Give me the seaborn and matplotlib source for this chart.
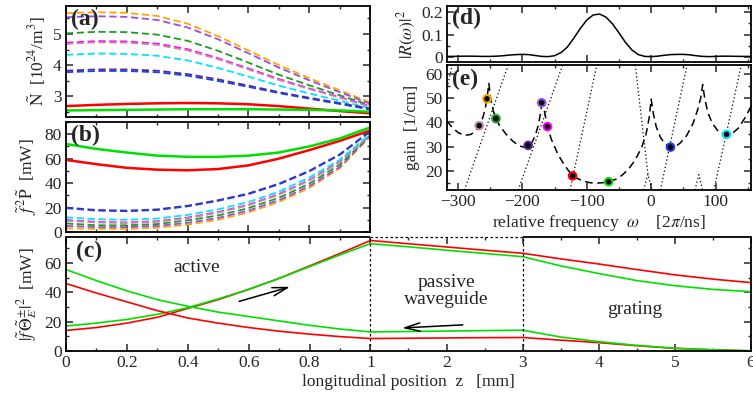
import numpy as np
import pandas as pd
import seaborn as sns
import matplotlib
matplotlib.use("Agg")
import matplotlib.pyplot as plt

# ---------------- data ----------------
z_ab = [0.0, 0.1, 0.2, 0.3, 0.4, 0.5, 0.6, 0.7, 0.8, 0.9, 1.0]

N_orange  = [5.67, 5.70, 5.68, 5.58, 5.33, 4.93, 4.47, 4.00, 3.58, 3.19, 2.80]
N_mpurple = [5.54, 5.57, 5.55, 5.45, 5.21, 4.83, 4.38, 3.92, 3.51, 3.13, 2.76]
N_green   = [5.02, 5.07, 5.06, 4.98, 4.78, 4.46, 4.08, 3.69, 3.35, 3.03, 2.71]
N_magenta = [4.72, 4.77, 4.76, 4.69, 4.51, 4.22, 3.89, 3.55, 3.25, 2.97, 2.68]
N_rosy    = [4.68, 4.73, 4.72, 4.65, 4.47, 4.19, 3.86, 3.52, 3.23, 2.95, 2.66]
N_cyan    = [4.33, 4.37, 4.36, 4.30, 4.15, 3.91, 3.63, 3.34, 3.09, 2.85, 2.61]
N_dpurple = [3.82, 3.86, 3.86, 3.82, 3.71, 3.54, 3.34, 3.13, 2.95, 2.78, 2.60]
N_blue    = [3.77, 3.81, 3.81, 3.77, 3.66, 3.49, 3.30, 3.10, 2.92, 2.75, 2.57]
N_red     = [2.68, 2.72, 2.75, 2.77, 2.78, 2.77, 2.74, 2.68, 2.60, 2.52, 2.45]
N_lime    = [2.54, 2.55, 2.56, 2.57, 2.58, 2.58, 2.58, 2.57, 2.56, 2.54, 2.50]

P_red     = [59, 55.5, 52.5, 51, 50.5, 51.5, 54.5, 60, 67, 74.5, 83]
P_lime    = [72, 68, 65, 62.5, 61.5, 61.5, 62.5, 65, 70, 76.5, 85.5]
P_blue    = [19.5, 17.5, 17, 18, 21, 25.5, 31, 39, 49.5, 63, 82]
P_dpurple = [20, 18, 17.5, 18.5, 21.5, 26, 31.5, 39.5, 50, 63.5, 82.5]
P_cyan    = [12, 10.5, 10, 11, 14, 18.5, 24.5, 33, 44.5, 59, 80]
P_magenta = [9.8, 8.3, 7.8, 8.8, 11.8, 16.3, 22.3, 31, 42.5, 57.5, 79.5]
P_rosy    = [9.2, 7.8, 7.3, 8.3, 11.3, 15.8, 21.8, 30.5, 42, 57, 79.3]
P_green   = [7, 5.5, 5.5, 6.5, 9.5, 13.5, 19.5, 28, 39.5, 55, 79]
P_mpurple = [5, 4, 4, 5, 7.5, 11.5, 17.5, 26, 37.5, 53, 78.5]
P_orange  = [3, 2.5, 2.5, 3.5, 6, 10, 16, 24.5, 36, 52, 78]

z_c = [0.0, 0.1, 0.2, 0.3, 0.4, 0.5, 0.6, 0.7, 0.8, 0.9, 1.0,
       1.5, 2.0, 2.5, 3.0, 3.5, 4.0, 4.5, 5.0, 5.5, 6.0]
fwd_red  = [14, 16, 19, 23, 29, 35, 42, 49.5, 58, 66.5, 75.3,
            73.1, 70.9, 68.7, 66.6, 62.8, 59.3, 55.5, 51.9, 49.0, 46.6]
fwd_lime = [17, 19, 21.5, 25, 29.5, 35.5, 42, 49.5, 57.5, 65.5, 73.2,
            71.0, 68.7, 66.5, 64.3, 58.0, 52.8, 48.0, 44.5, 42.0, 40.4]
bwd_red  = [46, 39.5, 33.5, 27.5, 22.5, 19, 16, 13.5, 11.5, 9.8, 8.5,
            8.7, 8.9, 9.1, 9.2, 7.4, 5.7, 3.6, 1.8, 0.8, 0.1]
bwd_lime = [55.5, 48, 41, 35, 30.5, 26.5, 23.5, 20.5, 17.5, 15, 13,
            13.3, 13.6, 13.9, 14.2, 9.5, 6.4, 3.8, 1.9, 0.8, 0.1]

omega_d = [-320, -310, -300, -290, -280, -270, -260, -250, -240, -230, -220, -210,
           -200, -190, -180, -170, -160, -150, -140, -130, -120, -110, -100, -90,
           -80, -70, -60, -50, -40, -30, -20, -10, 0, 10, 20, 30, 40, 50, 60, 70,
           80, 90, 100, 110, 120, 130, 140, 150, 160]
refl_d = [0.003, 0.003, 0.0035, 0.004, 0.004, 0.0035, 0.003, 0.003, 0.004, 0.006,
          0.009, 0.011, 0.012, 0.011, 0.007, 0.003, 0.002, 0.006, 0.020, 0.045,
          0.085, 0.128, 0.165, 0.188, 0.192, 0.178, 0.148, 0.108, 0.066, 0.032,
          0.011, 0.003, 0.002, 0.004, 0.008, 0.011, 0.012, 0.012, 0.010, 0.006,
          0.003, 0.002, 0.003, 0.004, 0.004, 0.0035, 0.003, 0.003, 0.003]

omega_thr = [-317, -310, -300, -290, -280, -272, -267, -262, -258, -255, -252, -249,
             -245, -241, -235, -225, -215, -205, -195, -190, -185, -180, -175, -171,
             -169, -166, -161, -155, -145, -135, -125, -115, -105, -95, -85, -75,
             -66, -55, -45, -35, -25, -15, -8, -3, 0, 3, 8, 15, 22, 30, 38, 45, 55,
             65, 72, 77, 80, 83, 88, 95, 105, 115, 125, 135, 145, 155]
gain_thr = [40.5, 38.2, 35.8, 34.6, 35.0, 36.5, 38.6, 41.5, 45, 49.6, 56, 49,
            44.5, 41.5, 38.5, 35, 32.3, 30.3, 29.6, 30.2, 31.8, 34.5, 39, 45,
            50, 45, 38.2, 33, 27, 22.5, 19, 17, 15.8, 15.2, 15, 15.2,
            15.6, 16.6, 18.3, 20.8, 24.5, 29.5, 35, 42, 49.5, 44, 38, 33.5, 31, 29.8, 30, 31.5, 34.5,
            39.5, 45, 50, 55.5, 50, 44, 39.5, 36, 34.8, 35.2, 37.5, 41.5, 46.5]

# phase-condition (dotted) curves, each as its omega / gain values
phase_omega = [[-352, -309], [-290, -222], [-206.5, -137.4], [-126, -84.4],
               [-24.7, -5, 1.3], [-11.7, -5], [14.3, 55.8], [68, 74, 80], [97.4, 140]]
phase_gain = [[12.2, 63.5], [12.2, 63.5], [12.2, 63.5], [12.2, 63.5],
              [63.5, 18.6, 12.2], [12.2, 18.6], [12.2, 63.5], [12.2, 18.5, 12.2], [12.2, 63.5]]

mode_names = ["orange", "green", "rosy", "dpurple", "mpurple", "magenta", "red", "lime", "blue", "cyan"]
mode_omega = [-255, -241, -267, -191, -170, -161, -122, -66, 30, 117]
mode_gain = [49.6, 41.5, 38.6, 30.5, 48.0, 38.2, 18.0, 15.6, 29.8, 35.0]

colors = {"orange": "#FFA500", "mpurple": "#9A4FE0", "green": "#1E9E1E", "magenta": "#FF00FF",
          "rosy": "#C88AA8", "cyan": "#00E5FF", "dpurple": "#5A2A90", "blue": "#1F3FE8",
          "red": "#FF0000", "lime": "#00E000"}

# ---------------- style ----------------
sns.set_theme(style="ticks")
plt.rcParams["font.family"] = ["Liberation Serif", "DejaVu Serif"]
plt.rcParams["mathtext.fontset"] = "stix"
plt.rcParams["axes.linewidth"] = 1.3
plt.rcParams["xtick.direction"] = "in"
plt.rcParams["ytick.direction"] = "in"
plt.rcParams["xtick.major.size"] = 5
plt.rcParams["ytick.major.size"] = 5
plt.rcParams["xtick.minor.size"] = 2.5
plt.rcParams["ytick.minor.size"] = 2.5
plt.rcParams["xtick.major.width"] = 1.1
plt.rcParams["ytick.major.width"] = 1.1
plt.rcParams["xtick.minor.width"] = 1.0
plt.rcParams["ytick.minor.width"] = 1.0
FS = 12.5

W, H = 753, 398
fig = plt.figure(figsize=(W / 100, H / 100), dpi=100)


def add_ax(l, t, r, b):
    return fig.add_axes([l / W, 1 - b / H, (r - l) / W, (b - t) / H])


def style(ax):
    ax.tick_params(which="both", top=True, right=True, labelsize=FS, pad=3)
    for s in ax.spines.values():
        s.set_color("black")


ax_a = add_ax(66, 6, 370, 117)
ax_b = add_ax(66, 122, 370, 232)
ax_c = add_ax(66, 237, 751, 351)
ax_d = add_ax(447, 6, 751, 62)
ax_e = add_ax(447, 65, 751, 190)

# ---- (a) ----
dash_order = ["orange", "mpurple", "green", "magenta", "rosy", "cyan", "dpurple", "blue"]
Nd = {"orange": N_orange, "mpurple": N_mpurple, "green": N_green, "magenta": N_magenta,
      "rosy": N_rosy, "cyan": N_cyan, "dpurple": N_dpurple, "blue": N_blue}
for k in dash_order:
    sns.lineplot(x=z_ab, y=Nd[k], ax=ax_a, color=colors[k], linestyle=(0, (4, 2)), lw=1.3)
sns.lineplot(x=z_ab, y=N_red, ax=ax_a, color=colors["red"], lw=1.8)
sns.lineplot(x=z_ab, y=N_lime, ax=ax_a, color=colors["lime"], lw=1.8)
ax_a.set_xlim(0, 1)
ax_a.set_ylim(2.33, 5.9)
ax_a.set_yticks([3, 4, 5])
ax_a.set_yticks([2.5, 3.5, 4.5, 5.5], minor=True)
ax_a.set_xticks(np.arange(0, 1.01, 0.2))
ax_a.set_xticks(np.arange(0.1, 1.0, 0.2), minor=True)
ax_a.set_xticklabels([])
ax_a.set_ylabel(r"$\tilde{\rm N}$  [10$^{24}$/m$^3$]", fontsize=FS, labelpad=4)
style(ax_a)

# ---- (b) ----
Pd = {"orange": P_orange, "mpurple": P_mpurple, "green": P_green, "magenta": P_magenta,
      "rosy": P_rosy, "cyan": P_cyan, "dpurple": P_dpurple, "blue": P_blue}
for k in dash_order:
    sns.lineplot(x=z_ab, y=Pd[k], ax=ax_b, color=colors[k], linestyle=(0, (4, 2)), lw=1.3)
sns.lineplot(x=z_ab, y=P_red, ax=ax_b, color=colors["red"], lw=1.8)
sns.lineplot(x=z_ab, y=P_lime, ax=ax_b, color=colors["lime"], lw=1.8)
ax_b.set_xlim(0, 1)
ax_b.set_ylim(0, 90)
ax_b.set_yticks([0, 20, 40, 60, 80])
ax_b.set_yticks([10, 30, 50, 70, 90], minor=True)
ax_b.set_xticks(np.arange(0, 1.01, 0.2))
ax_b.set_xticks(np.arange(0.1, 1.0, 0.2), minor=True)
ax_b.set_xticklabels([])
ax_b.set_ylabel(r"$\tilde{f}^{\,2}\tilde{\rm P}$  [mW]", fontsize=FS, labelpad=4)
style(ax_b)

# ---- (c) ----
def fwd(x):
    x = np.asarray(x, dtype=float)
    return np.where(x < 1, 4 * x, x + 3)


def inv(y):
    y = np.asarray(y, dtype=float)
    return np.where(y < 4, y / 4, y - 3)


sns.lineplot(x=z_c, y=fwd_red, ax=ax_c, color=colors["red"], lw=1.2)
sns.lineplot(x=z_c, y=fwd_lime, ax=ax_c, color=colors["lime"], lw=1.2)
sns.lineplot(x=z_c, y=bwd_red, ax=ax_c, color=colors["red"], lw=1.2)
sns.lineplot(x=z_c, y=bwd_lime, ax=ax_c, color=colors["lime"], lw=1.2)
ax_c.set_xscale("function", functions=(fwd, inv))
ax_c.set_xlim(0, 6)
ax_c.set_ylim(0, 77.7)
ax_c.set_xticks([0, 0.2, 0.4, 0.6, 0.8, 1, 2, 3, 4, 5, 6])
ax_c.set_xticklabels(["0", "0.2", "0.4", "0.6", "0.8", "1", "2", "3", "4", "5", "6"])
ax_c.set_xticks([0.1, 0.3, 0.5, 0.7, 0.9, 1.5, 2.5, 3.5, 4.5, 5.5], minor=True)
ax_c.set_yticks([0, 20, 40, 60])
ax_c.set_yticks([10, 30, 50, 70], minor=True)
for zb in (1, 3):
    ax_c.axvline(zb, color="black", lw=0.9, linestyle=(0, (2, 2)))
ax_c.spines["top"].set_visible(False)
tr = ax_c.get_xaxis_transform()
ax_c.plot([0, 1], [1, 1], color="black", lw=1.3, transform=tr, clip_on=False, solid_capstyle="butt")
ax_c.plot([3, 6], [1, 1], color="black", lw=1.3, transform=tr, clip_on=False, solid_capstyle="butt")
ax_c.plot([1, 3], [1, 1], color="black", lw=0.9, linestyle=(0, (2, 2)), transform=tr, clip_on=False)
ax_c.annotate("", xy=(0.745, 44.3), xytext=(0.56, 33.3),
              arrowprops=dict(arrowstyle="->,head_length=0.9,head_width=0.25", color="black", lw=1.1))
ax_c.annotate("", xy=(1.38, 15.6), xytext=(2.25, 17.9),
              arrowprops=dict(arrowstyle="->,head_length=0.9,head_width=0.25", color="black", lw=1.1))
ax_c.text(0.43, 57, "active", fontsize=14, ha="center", va="center")
ax_c.text(2.0, 41, "passive\nwaveguide", fontsize=14, ha="center", va="center", linespacing=1.0)
ax_c.text(4.47, 28.3, "grating", fontsize=14, ha="center", va="center")
ax_c.set_xlabel("longitudinal position  z   [mm]", fontsize=FS, labelpad=2)
ax_c.set_ylabel(r"$|\tilde{f}\,\tilde{\Theta}_E^{\pm}|^2$  [mW]", fontsize=FS, labelpad=4)
style(ax_c)

# ---- (d) ----
sns.lineplot(x=omega_d, y=refl_d, ax=ax_d, color="black", lw=1.1)
ax_d.set_xlim(-317, 155)
ax_d.set_ylim(-0.022, 0.228)
ax_d.set_yticks([0, 0.1, 0.2])
ax_d.set_yticklabels(["0", "0.1", "0.2"])
ax_d.set_yticks([0.05, 0.15], minor=True)
ax_d.set_xticks([-300, -200, -100, 0, 100])
ax_d.set_xticks([-250, -150, -50, 50, 150], minor=True)
ax_d.set_xticklabels([])
ax_d.set_ylabel(r"$|R(\omega)|^2$", fontsize=FS, labelpad=2)
style(ax_d)

# ---- (e) ----
sns.lineplot(x=omega_thr, y=gain_thr, ax=ax_e, color="black", lw=1.1, linestyle=(0, (5, 3)),
             sort=False)
for xo, yo in zip(phase_omega, phase_gain):
    sns.lineplot(x=xo, y=yo, ax=ax_e, color="black", lw=0.9, linestyle=(0, (1, 2)), sort=False)
modes = pd.DataFrame({"mode": mode_names, "omega": mode_omega, "gain": mode_gain})
sns.scatterplot(data=modes, x="omega", y="gain", hue="mode",
                palette={k: colors[k] for k in mode_names}, s=48, edgecolor="none",
                ax=ax_e, legend=False, zorder=5)
sns.scatterplot(data=modes, x="omega", y="gain", color="black", s=16, edgecolor="none",
                ax=ax_e, legend=False, zorder=6)
ax_e.set_xlim(-317, 155)
ax_e.set_ylim(12.2, 63.5)
ax_e.set_yticks([20, 30, 40, 50, 60])
ax_e.set_yticks([15, 25, 35, 45, 55], minor=True)
ax_e.set_xticks([-300, -200, -100, 0, 100])
ax_e.set_xticks([-250, -150, -50, 50, 150], minor=True)
ax_e.set_xlabel(r"relative frequency  $\omega$    [2$\pi$/ns]", fontsize=FS, labelpad=2)
ax_e.set_ylabel("gain  [1/cm]", fontsize=FS, labelpad=4)
style(ax_e)

for ax, lab in [(ax_a, "(a)"), (ax_b, "(b)"), (ax_c, "(c)"), (ax_d, "(d)"), (ax_e, "(e)")]:
    ax.text(0.015, 0.97, lab, transform=ax.transAxes, fontsize=17, fontweight="bold",
            ha="left", va="top", zorder=10)

fig.savefig("out.png", dpi=100)
